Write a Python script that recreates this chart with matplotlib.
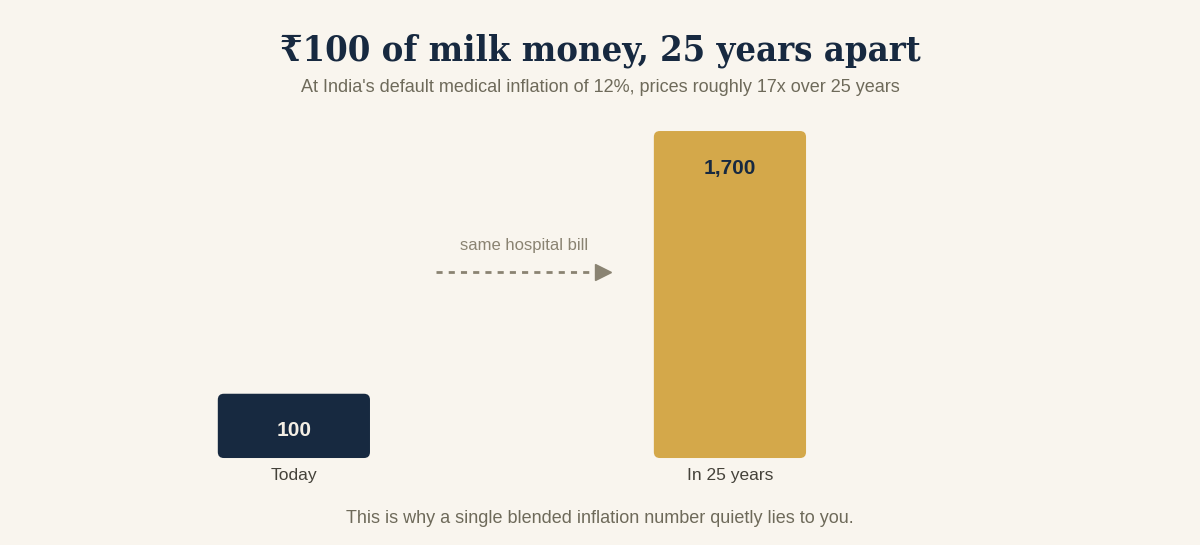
import matplotlib
matplotlib.use("Agg")
import matplotlib.pyplot as plt
from matplotlib.patches import FancyBboxPatch
from matplotlib.transforms import Bbox, IdentityTransform

# data
categories = ["Today", "In 25 years"]
values = [100, 1700]
value_labels = ["100", "1,700"]
arrow_note = "same hospital bill"

BG = "#f9f5ee"
NAVY = "#172940"
GOLD = "#d4a84a"
MUTED = "#6e6a5a"
ARROW = "#8a8372"
LABEL = "#45423a"

plt.rcParams["font.family"] = ["Liberation Sans", "DejaVu Sans"]

fig = plt.figure(figsize=(12, 5.45), dpi=100, facecolor=BG)
ax = fig.add_axes([0.125, 0.1596, 0.75, 0.6])
ax.set_facecolor(BG)

x = list(range(len(categories)))
bars = ax.bar(x, values, width=0.349, color=[NAVY, GOLD])
ax.set_yscale("log")
ax.set_ylim(50, 1700)
ax.set_xlim(-0.33, 1.734)

for s in ax.spines.values():
    s.set_visible(False)
ax.set_yticks([])
ax.set_yticks([], minor=True)
ax.set_xticks(x)
ax.set_xticklabels(categories, fontsize=12.5, color=LABEL)
ax.tick_params(axis="x", length=0, pad=7)

# rounded bars, built from the bars' own extents (clipped to the axes)
fig.canvas.draw()
for b in bars:
    bb = Bbox.intersection(b.get_window_extent(), ax.bbox)
    r = 6
    p = FancyBboxPatch((bb.x0 + r, bb.y0 + r), bb.width - 2 * r, bb.height - 2 * r,
                       boxstyle=f"round,pad={r}", transform=IdentityTransform(),
                       facecolor=b.get_facecolor(), edgecolor="none", zorder=2,
                       clip_on=False)
    ax.add_patch(p)
    b.set_visible(False)

label_colors = ["#f3eee4", NAVY]
for xi, v, lab, c in zip(x, values, value_labels, label_colors):
    ax.annotate(lab, (xi, v), xytext=(0, -37), textcoords="offset pixels",
                ha="center", va="center", fontsize=15, fontweight="bold",
                color=c, zorder=3)

# dashed arrow between the bars
ytr = ax.get_xaxis_transform()
ax.plot([0.326, 0.692], [0.569, 0.569], transform=ytr, color=ARROW, lw=2,
        linestyle=(0, (2.2, 2.2)), clip_on=False, zorder=2)
ax.plot([0.71], [0.569], transform=ytr, marker=">", ms=12, color=ARROW,
        clip_on=False, zorder=2)
ax.text(0.527, 0.651, arrow_note, transform=ytr,
        ha="center", va="center", fontsize=12, color=ARROW)

fig.text(0.5, 0.907, "\u20b9100 of milk money, 25 years apart",
         ha="center", va="center", fontsize=26, fontweight="bold", color=NAVY,
         fontstretch="condensed", family=["DejaVu Serif", "DejaVu Sans"])
fig.text(0.5, 0.839, "At India's default medical inflation of 12%, prices roughly 17x over 25 years",
         ha="center", va="center", fontsize=13, color=MUTED)
fig.text(0.5, 0.049, "This is why a single blended inflation number quietly lies to you.",
         ha="center", va="center", fontsize=13, color=MUTED)

fig.savefig("out.png", dpi=100, facecolor=BG)
